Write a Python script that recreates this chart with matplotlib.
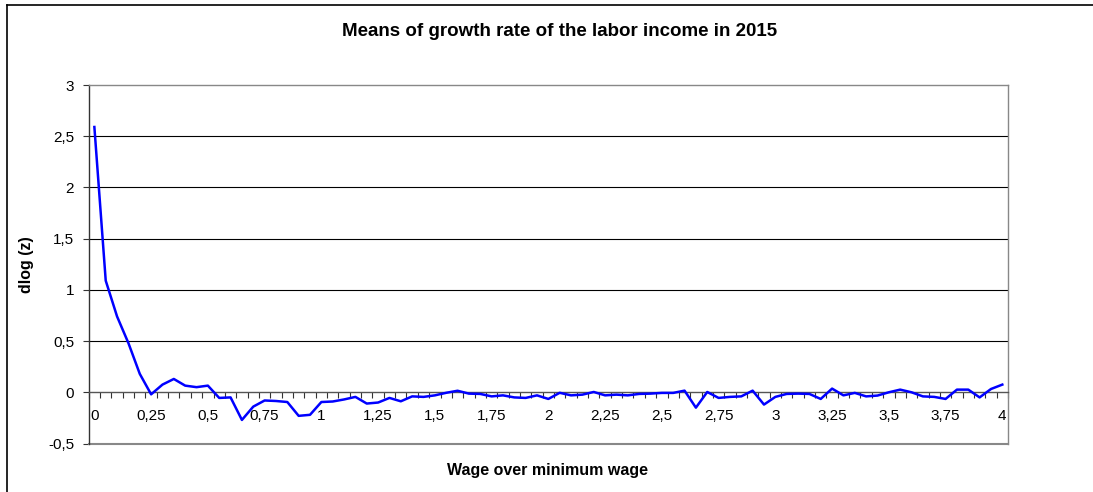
import numpy as np
import matplotlib
matplotlib.use('Agg')
import matplotlib.pyplot as plt
from matplotlib.lines import Line2D

plt.rcParams['font.family'] = ['Liberation Sans', 'DejaVu Sans']

# wage / minimum wage, one category every 0.05
wage = [0.00, 0.05, 0.10, 0.15, 0.20, 0.25, 0.30, 0.35, 0.40, 0.45,
        0.50, 0.55, 0.60, 0.65, 0.70, 0.75, 0.80, 0.85, 0.90, 0.95,
        1.00, 1.05, 1.10, 1.15, 1.20, 1.25, 1.30, 1.35, 1.40, 1.45,
        1.50, 1.55, 1.60, 1.65, 1.70, 1.75, 1.80, 1.85, 1.90, 1.95,
        2.00, 2.05, 2.10, 2.15, 2.20, 2.25, 2.30, 2.35, 2.40, 2.45,
        2.50, 2.55, 2.60, 2.65, 2.70, 2.75, 2.80, 2.85, 2.90, 2.95,
        3.00, 3.05, 3.10, 3.15, 3.20, 3.25, 3.30, 3.35, 3.40, 3.45,
        3.50, 3.55, 3.60, 3.65, 3.70, 3.75, 3.80, 3.85, 3.90, 3.95,
        4.00]

# mean dlog(z) per bin
dlog = [2.59, 1.09, 0.74, 0.48, 0.18, -0.02, 0.075, 0.13, 0.065, 0.05,
        0.065, -0.055, -0.05, -0.27, -0.14, -0.08, -0.085, -0.095, -0.23, -0.22,
        -0.095, -0.09, -0.07, -0.045, -0.11, -0.10, -0.055, -0.088, -0.04, -0.045,
        -0.03, -0.005, 0.015, -0.013, -0.016, -0.04, -0.03, -0.05, -0.055, -0.03,
        -0.065, -0.005, -0.03, -0.023, 0.003, -0.03, -0.023, -0.03, -0.016, -0.013,
        -0.006, -0.006, 0.016, -0.15, 0.003, -0.055, -0.045, -0.04, 0.016, -0.12,
        -0.045, -0.016, -0.013, -0.016, -0.065, 0.036, -0.03, -0.006, -0.04, -0.032,
        0.0, 0.026, 0.0, -0.04, -0.045, -0.065, 0.026, 0.026, -0.05, 0.032,
        0.075]

y_ticks = [-0.5, 0, 0.5, 1, 1.5, 2, 2.5, 3]

def comma(v):
    s = ('%g' % v)
    return s.replace('.', ',')

W, H = 1093, 492
fig = plt.figure(figsize=(W / 100, H / 100), dpi=100)
fig.patch.set_facecolor('white')

# plot area in pixels
left, right, top, bottom = 88.7, 1008, 85, 443.5
ax = fig.add_axes([left / W, 1 - bottom / H, (right - left) / W, (bottom - top) / H])

n = len(dlog)
ax.plot(range(n), dlog, color='#0000FF', lw=1.8, zorder=3)

ax.set_xlim(-0.5, n - 0.5)
ax.set_ylim(-0.5, 3)

# horizontal gridlines
for v in y_ticks[2:-1]:
    ax.axhline(v, color='black', lw=0.8, zorder=1)

# category axis sits on y = 0
ax.spines['bottom'].set_position(('data', 0))
ax.spines['bottom'].set_color('#555555')
ax.spines['bottom'].set_linewidth(1.0)
ax.spines['left'].set_color('#333333')
ax.spines['left'].set_linewidth(1.0)
for s in ['top', 'right']:
    ax.spines[s].set_color('#888888')
    ax.spines[s].set_linewidth(1.0)
ax.axhline(-0.5, color='#888888', lw=1.5, clip_on=False, zorder=2)

major = [i for i in range(n) if i % 5 == 0]
ax.set_xticks(major)
ax.set_xticklabels([comma(wage[i]) for i in major], fontsize=11)
ax.set_xticks(np.arange(-0.5, n, 1), minor=True)
ax.tick_params(axis='x', which='major', length=0, pad=12)
ax.tick_params(axis='x', which='minor', length=4, width=0.8, direction='out', color='#333333')

ax.set_yticks(y_ticks)
ax.set_yticklabels([comma(v) for v in y_ticks], fontsize=11)
ax.tick_params(axis='y', length=4.5, width=0.8, pad=6, color='#333333')

fig.text(559.5 / W, 1 - 32 / H, 'Means of growth rate of the labor income in 2015',
         ha='center', va='center', fontsize=13.5, fontweight='bold')
fig.text(547.5 / W, 1 - 471 / H, 'Wage over minimum wage',
         ha='center', va='center', fontsize=11.5, fontweight='bold')
fig.text(27 / W, 1 - 264.5 / H, 'dlog (z)', rotation=90,
         ha='center', va='center', fontsize=11.5, fontweight='bold')

# chart frame
fig.add_artist(Line2D([7 / W, 1], [1 - 5 / H, 1 - 5 / H], transform=fig.transFigure,
                      color='black', lw=1.2))
fig.add_artist(Line2D([7 / W, 7 / W], [1 - 5 / H, 0], transform=fig.transFigure,
                      color='black', lw=1.2))

fig.savefig('out.png', dpi=100)
